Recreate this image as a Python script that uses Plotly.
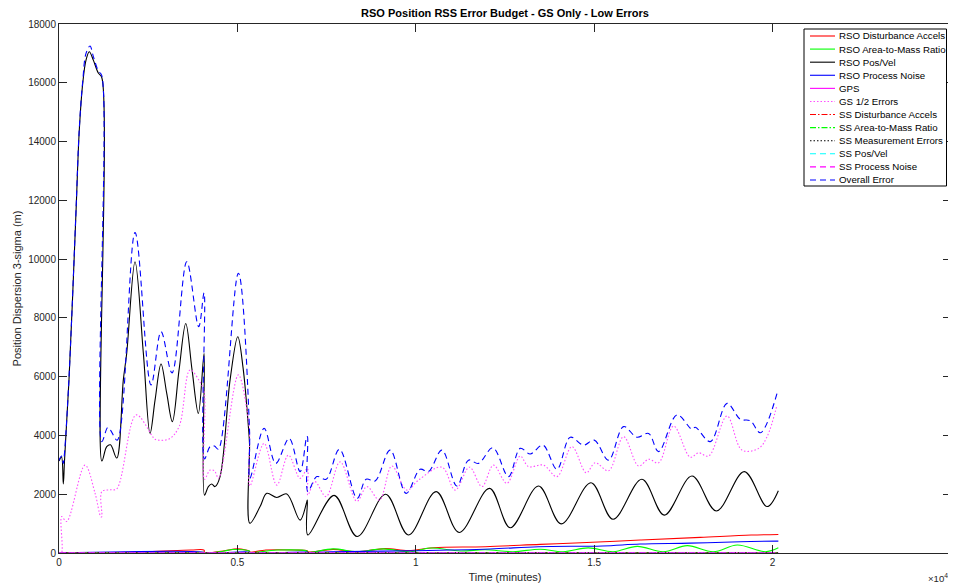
import plotly.graph_objects as go

# ---------------- data (time in minutes, dispersion in metres) ----------------
t_posvel = [0, 70, 121, 154, 280, 468, 569, 665, 757, 850, 962, 1102, 1197,
            1200, 1338, 1444, 1618, 1803, 1898, 2131, 2364, 2552, 2692, 2860, 3020, 3177, 3365, 3553, 3729, 3906, 4066,
            4078, 4186, 4281, 4374, 4514, 4795, 5011, 5159, 5308, 5340,
            5350, 5636, 5824, 6104, 6385, 6758, 6946, 6962,
            6975, 7711, 8356, 9155, 9794, 10571, 11216, 12066, 12646, 13440, 14076, 14909, 15526,
            16338, 16964, 17741, 18423, 19208, 19845, 20161]
rso_posvel = [3130, 3270, 2350, 3130, 5890, 11330, 14390, 15980, 16770, 17055, 16770, 16330, 16190,
              3130, 3620, 3680, 3230, 5890, 6800, 9910, 6800, 4070, 5200, 6430, 5430, 4470, 6230, 7810, 6230, 4750, 6790,
              1970, 2260, 2350, 2260, 2600, 5890, 7360, 6300, 4300, 3700,
              1010, 1580, 2030, 1890, 2010, 1120, 1750, 1800,
              610, 1960, 560, 2000, 612, 2090, 700, 2200, 860, 2280, 990, 2390, 1150,
              2510, 1290, 2620, 1430, 2770, 1580, 2120]

t_overall = [0, 70, 121, 154, 280, 468, 569, 665, 757, 869, 962, 1102, 1197,
             1200, 1365, 1444, 1632, 2131, 2580, 2860, 3168, 3581, 3915, 4066,
             4078, 4234, 4355, 4467, 5027, 5340,
             5350, 5748, 6075, 6451, 6758, 6946, 6962,
             6975, 7226, 7487, 7860, 8356, 8608, 8860, 9281, 9730, 10122, 10355, 10732, 11152, 11477,
             11757, 12161, 12598, 12926, 13207, 13563, 13956, 14329, 14702, 15001, 15403, 15823, 16199,
             16523, 16805, 17320, 17741, 17834, 18254, 18723, 19096, 19376, 19657, 20124]
overall = [3150, 3300, 3050, 3400, 5950, 11400, 14450, 16050, 17000, 17250, 16900, 16400, 16250,
           3790, 4270, 4180, 3840, 10900, 5720, 7530, 6130, 9910, 7700, 8850,
           3200, 3620, 3640, 3530, 9520, 4180,
           2540, 4240, 3050, 3900, 2770, 3960, 3960,
           2090, 2600, 2510, 3530, 1860, 2510, 2450, 3500, 2030, 2850, 2770, 3500, 2280, 3160,
           3050, 3580, 2600, 3560, 3370, 3670, 2850, 3940, 3670, 3840, 3160, 4300, 3940,
           4070, 3450, 4700, 4210, 4280, 3790, 5090, 4550, 4500, 4090, 5430]

t_gs = [0, 70, 75, 215, 729, 1009, 1169, 1197,
        1200, 1444, 1618, 2164, 2599, 2692, 3085, 3365, 3673, 3945, 4066,
        4078, 4234, 4355, 4472, 5027, 5308, 5340,
        5350, 5748, 6104, 6429, 6758, 6962,
        6975, 7170, 7487, 7879, 8348, 8628, 8981, 9329, 9749, 10075, 10732, 11104, 11505, 11853,
        12178, 12553, 12926, 13159, 13580, 13956, 14376, 14777, 15029, 15403, 15823, 16244, 16523,
        16805, 17225, 17693, 17927, 18208, 18723, 19143, 19609, 19845, 20124]
gs_errors = [0, 0, 1240, 1070, 2990, 2040, 1240, 1230,
             2090, 2150, 2180, 4700, 4010, 3870, 3880, 4300, 6230, 5830, 5500,
             2510, 2820, 2800, 2540, 6060, 4525, 4100,
             2280, 3730, 2310, 3330, 2540, 2880,
             1970, 2430, 1920, 3100, 1760, 2260, 1800, 2960, 2140, 2480, 2920, 2140, 2920, 2260,
             2990, 2370, 3300, 2940, 2990, 2600, 3620, 2730, 3070, 2800, 3960, 2960, 3190,
             3070, 4320, 3260, 3410, 3300, 4660, 3500, 3560, 3960, 5040]

t_dist = [0, 1200, 2500, 3700, 4066, 4078, 4600, 5011, 5340, 5350, 5800, 6600, 6962, 6975,
          7683, 8356, 9141, 9794, 10487, 11945, 13487, 14469, 16291, 17973, 19400, 20161]
rso_dist = [0, 10, 40, 100, 100, 10, 70, 140, 60, 30, 100, 100, 70, 40,
            125, 45, 150, 80, 180, 215, 295, 340, 440, 530, 610, 630]

t_a2m = [0, 4000, 4066, 4078, 4600, 4880, 5340, 5350, 6100, 6962, 6975, 7683, 8356, 9085, 9842,
         10403, 11244, 11945, 12730, 13487, 14132, 14833, 15534, 16207, 16936, 17609, 18338, 19011, 19796, 20161]
rso_a2m = [0, 20, 20, 0, 60, 120, 60, 20, 100, 60, 20, 140, 40, 140, 40,
           170, 70, 110, 45, 130, 45, 175, 45, 225, 45, 250, 45, 270, 45, 180]

t_pn = [0, 4066, 4078, 5340, 5350, 6962, 6975, 7600, 10010, 12085, 13440, 15226, 16291, 17693, 19096, 20161]
rso_pn = [0, 20, 0, 30, 10, 30, 20, 45, 78, 136, 215, 240, 306, 335, 385, 405]

t_flat = [0, 20161]
gps = [10, 10]
ss_dist = [0, 0]
ss_a2m = [0, 0]
ss_meas = [0, 0]
ss_posvel = [0, 0]
ss_pn = [8, 8]

legend_names = ["RSO Disturbance Accels", "RSO Area-to-Mass Ratio", "RSO Pos/Vel", "RSO Process Noise",
                "GPS", "GS 1/2 Errors", "SS Disturbance Accels", "SS Area-to-Mass Ratio",
                "SS Measurement Errors", "SS Pos/Vel", "SS Process Noise", "Overall Error"]
x_tickvals = [0, 5000, 10000, 15000, 20000, 25000]
x_ticktext = ["0", "0.5", "1", "1.5", "2", "2.5"]
y_tickvals = list(range(0, 18001, 2000))
y_ticktext = [str(v) for v in y_tickvals]

# ---------------- styling ----------------
DASH = "6px,4px"
DOT = "1.5px,2px"
DASHDOT = "6px,2px,1.5px,2px"
styles = [
    ("#ff0000", "solid"), ("#00ff00", "solid"), ("#000000", "solid"), ("#0000ff", "solid"),
    ("#ff00ff", "solid"), ("#ff4dff", DOT), ("#ff0000", DASHDOT), ("#00ff00", DASHDOT),
    ("#000000", DOT), ("#00ffff", DASH), ("#ff00ff", DASH), ("#0000ff", DASH),
]
series = [
    (t_dist, rso_dist), (t_a2m, rso_a2m), (t_posvel, rso_posvel), (t_pn, rso_pn),
    (t_flat, gps), (t_gs, gs_errors), (t_flat, ss_dist), (t_flat, ss_a2m),
    (t_flat, ss_meas), (t_flat, ss_posvel), (t_flat, ss_pn), (t_overall, overall),
]

# The page body adds an 8 px offset, so the figure is 8 px smaller and all
# page-pixel positions are shifted by OFF.
OFF = 8
W, H = 956 - OFF, 588 - OFF
L, R, T, B = 59 - OFF, 951 - OFF, 24 - OFF, 553 - OFF
FONT = "Liberation Sans, Arial, Helvetica, sans-serif"
AXC = "#262626"

fig = go.Figure()
for (tx, vy), name, (col, dash) in zip(series, legend_names, styles):
    fig.add_trace(go.Scatter(
        x=tx, y=vy, name=name, mode="lines",
        line=dict(color=col, width=1.1, dash=dash, shape="spline", smoothing=1.0),
        showlegend=False, hoverinfo="x+y+name",
    ))

def px2paper_x(px):
    return (px - OFF - L) / (R - L)

def py2paper_y(py):
    return (B - (py - OFF)) / (B - T)

# custom MATLAB-style legend box
shapes = [dict(type="rect", xref="paper", yref="paper",
               x0=px2paper_x(804), x1=px2paper_x(946.5), y0=py2paper_y(186), y1=py2paper_y(29),
               line=dict(color="#000000", width=1), fillcolor="#ffffff", layer="above")]
annotations = []
for i, (name, (col, dash)) in enumerate(zip(legend_names, styles)):
    yc = py2paper_y(36 + i * 13.09)
    shapes.append(dict(type="line", xref="paper", yref="paper",
                       x0=px2paper_x(810), x1=px2paper_x(835), y0=yc, y1=yc,
                       line=dict(color=col, width=1.1, dash=dash), layer="above"))
    annotations.append(dict(xref="paper", yref="paper", x=px2paper_x(836.5), y=yc,
                            xanchor="left", yanchor="middle", text=name, showarrow=False,
                            font=dict(family=FONT, size=9.7, color="#000000")))
annotations.append(dict(xref="paper", yref="paper", x=px2paper_x(950), y=py2paper_y(578),
                        xanchor="right", yanchor="middle", text="\u00d710<sup>4</sup>", showarrow=False,
                        font=dict(family=FONT, size=9.6, color=AXC)))

fig.update_layout(
    width=W, height=H, autosize=False,
    margin=dict(l=L, r=W - R, t=T, b=H - B, autoexpand=False),
    paper_bgcolor="#ffffff", plot_bgcolor="#ffffff",
    title=dict(text="RSO Position RSS Error Budget - GS Only - Low Errors",
               x=px2paper_x(505), xref="paper", xanchor="center",
               y=1 - (13 - OFF) / H, yref="container", yanchor="middle",
               font=dict(family=FONT, size=11, color="#000000", weight="bold")),
    xaxis=dict(range=[0, 25000], tickvals=x_tickvals, ticktext=x_ticktext,
               ticks="inside", ticklen=8, tickcolor=AXC, showline=True, linecolor=AXC, linewidth=1,
               mirror="ticks", showgrid=False, zeroline=False,
               tickfont=dict(family=FONT, size=10, color=AXC),
               title=dict(text="Time (minutes)", font=dict(family=FONT, size=11, color=AXC), standoff=6)),
    yaxis=dict(range=[0, 18000], tickvals=y_tickvals, ticktext=y_ticktext,
               ticks="inside", ticklen=8, tickcolor=AXC, showline=True, linecolor=AXC, linewidth=1,
               mirror="ticks", showgrid=False, zeroline=False,
               tickfont=dict(family=FONT, size=10, color=AXC),
               title=dict(text="Position Dispersion 3-sigma (m)", font=dict(family=FONT, size=11, color=AXC), standoff=4)),
    shapes=shapes, annotations=annotations,
)

fig.write_html("out.html")
